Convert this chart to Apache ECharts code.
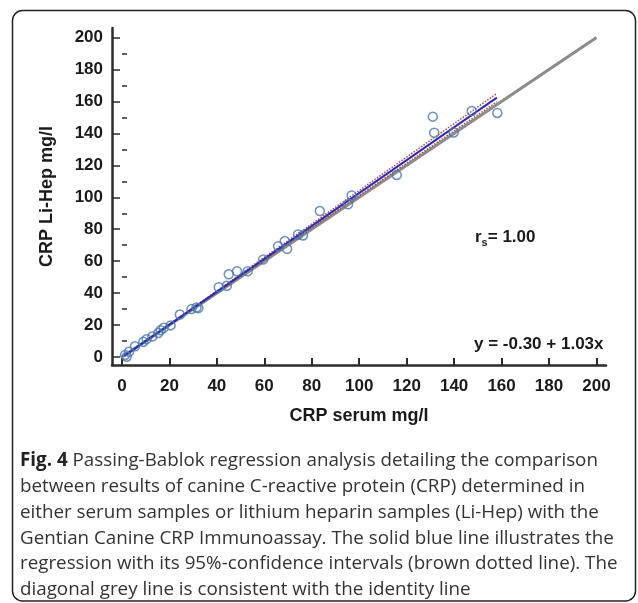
<!DOCTYPE html>
<html>
<head>
<meta charset="utf-8">
<script src="https://cdn.jsdelivr.net/npm/echarts@6/dist/echarts.min.js"></script>
<style>
html, body { margin: 0; padding: 0; background: #fff; }
#chart { width: 638px; height: 603px; }
</style>
</head>
<body>
<div id="chart"></div>
<script>
// CRP serum (x) vs CRP Li-Hep (y), mg/l
var serumX = [1.3, 2.0, 3.0, 5.5, 9.0, 10.4, 12.8, 15.3, 16.3, 17.6, 20.5, 24.4, 29.3, 31.4, 32.2,
	40.8, 44.2, 45.0, 48.5, 53.0, 59.5, 65.8, 68.6, 69.6, 74.2, 76.3, 83.4, 95.3, 96.8, 115.8,
	131.0, 131.6, 139.8, 147.4, 158.2];
var liHepY = [1.3, 0.2, 3.3, 6.7, 9.6, 11.2, 12.8, 15.0, 16.8, 18.3, 19.8, 26.6, 30.0, 31.0, 30.6,
	43.7, 44.6, 51.8, 53.7, 53.7, 61.0, 69.4, 72.6, 67.7, 76.7, 76.1, 91.4, 95.6, 101.2, 114.0,
	150.5, 140.4, 140.6, 154.0, 152.8];

var tickValues = [0, 20, 40, 60, 80, 100, 120, 140, 160, 180, 200];
var minorTickValues = [10, 30, 50, 70, 90, 110, 130, 150, 170, 190];

var identityLine = [[0, 0], [200, 200]];
var regressionLine = [[1, 0.73], [158, 162.4]];
var ciUpperLine = [[1, 0.6], [158, 165.0]];
var ciLowerLine = [[1, 0.9], [158, 159.8]];

var xName = 'CRP serum mg/l';
var yName = 'CRP Li-Hep mg/l';
var rsText = '{v|r}{sub|s}{v|= 1.00}';
var eqText = 'y = -0.30 + 1.03x';
var captionLines = [
	'{b|Fig. 4} Passing-Bablok regression analysis detailing the comparison',
	'between results of canine C-reactive protein (CRP) determined in',
	'either serum samples or lithium heparin samples (Li-Hep) with the',
	'Gentian Canine CRP Immunoassay. The solid blue line illustrates the',
	'regression with its 95%-confidence intervals (brown dotted line). The',
	'diagonal grey line is consistent with the identity line'
];

var axisFont = 'Liberation Sans';
var axisColor = '#2b2b2b';

var myChart = echarts.init(document.getElementById('chart'));
var option = {
	backgroundColor: '#fff',
	animation: false,
	grid: { left: 112, right: 32, top: 28, bottom: 238 },
	xAxis: {
		type: 'value',
		min: -4.2,
		max: 204,
		name: xName,
		nameLocation: 'middle',
		nameGap: 42,
		nameTextStyle: { fontFamily: axisFont, fontWeight: 'bold', fontSize: 18, color: '#1a1a1a' },
		axisLine: { show: true, onZero: false, lineStyle: { color: axisColor, width: 2.5 } },
		axisTick: { show: true, inside: true, length: 7, customValues: tickValues, lineStyle: { color: axisColor, width: 2 } },
		axisLabel: { customValues: tickValues, margin: 13, fontFamily: axisFont, fontWeight: 'bold', fontSize: 17, color: '#1a1a1a' },
		splitLine: { show: false }
	},
	yAxis: [
		{
			type: 'value',
			min: -5,
			max: 206,
			name: yName,
			nameLocation: 'middle',
			nameGap: 56,
			nameTextStyle: { fontFamily: axisFont, fontWeight: 'bold', fontSize: 18, color: '#1a1a1a' },
			axisLine: { show: true, onZero: false, lineStyle: { color: axisColor, width: 2.5 } },
			axisTick: { show: true, inside: true, length: 8, customValues: tickValues, lineStyle: { color: axisColor, width: 1.5 } },
			axisLabel: { customValues: tickValues, margin: 9, fontFamily: axisFont, fontWeight: 'bold', fontSize: 17, color: '#1a1a1a' },
			splitLine: { show: false }
		},
		{
			type: 'value',
			min: -5,
			max: 206,
			position: 'left',
			axisLine: { show: false },
			axisTick: { show: true, inside: true, length: 5, customValues: minorTickValues, lineStyle: { color: axisColor, width: 1.5 } },
			axisLabel: { show: false },
			splitLine: { show: false }
		}
	],
	series: [
		{
			name: 'identity',
			type: 'line',
			data: identityLine,
			symbol: 'none',
			lineStyle: { color: '#8c8c8c', width: 3 },
			z: 1
		},
		{
			name: 'ci upper',
			type: 'line',
			data: ciUpperLine,
			symbol: 'none',
			lineStyle: { color: '#b8443c', width: 1.5, type: 'dotted' },
			z: 2
		},
		{
			name: 'ci lower',
			type: 'line',
			data: ciLowerLine,
			symbol: 'none',
			lineStyle: { color: '#b8443c', width: 1.5, type: 'dotted' },
			z: 2
		},
		{
			name: 'regression',
			type: 'line',
			data: regressionLine,
			symbol: 'none',
			lineStyle: { color: '#2a2ab8', width: 2 },
			z: 3
		},
		{
			name: 'samples',
			type: 'scatter',
			data: serumX.map(function (x, i) { return [x, liHepY[i]]; }),
			symbol: 'circle',
			symbolSize: 9,
			itemStyle: { color: 'rgba(255,255,255,0)', borderColor: '#4677ad', borderWidth: 1.5 },
			z: 4
		}
	],
	graphic: [
		{
			type: 'rect',
			shape: { x: 12.5, y: 10.5, width: 623, height: 590.5, r: 10 },
			style: { fill: 'none', stroke: '#222', lineWidth: 1.5 },
			silent: true
		},
		{
			type: 'text',
			left: 475,
			top: 229,
			style: {
				text: rsText,
				rich: {
					v: { fontFamily: axisFont, fontWeight: 'bold', fontSize: 17, fill: '#1a1a1a' },
					sub: { fontFamily: axisFont, fontWeight: 'bold', fontSize: 11, fill: '#1a1a1a', padding: [10, 0, 0, 0] }
				}
			}
		},
		{
			type: 'text',
			left: 474,
			top: 336,
			style: { text: eqText, fontFamily: axisFont, fontWeight: 'bold', fontSize: 17, fill: '#1a1a1a' }
		},
		{
			type: 'text',
			left: 20,
			top: 448,
			style: {
				text: captionLines.join('\n'),
				fontFamily: 'Open Sans',
				fontSize: 18.8,
				lineHeight: 25.8,
				fill: '#333',
				rich: {
					b: { fontFamily: 'Open Sans', fontWeight: 'bold', fontSize: 18.8, lineHeight: 25.8, fill: '#222' }
				}
			}
		}
	]
};
myChart.setOption(option);
window.onresize = myChart.resize;
</script>
</body>
</html>
